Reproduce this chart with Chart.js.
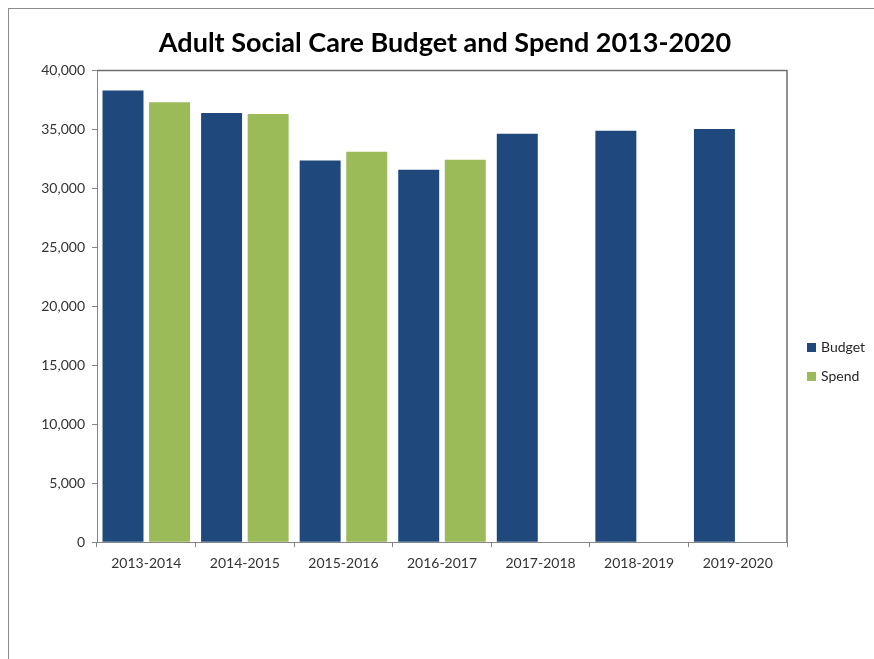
<!DOCTYPE html>
<html>
<head>
<meta charset="utf-8">
<script src="https://cdn.jsdelivr.net/npm/chart.js@4"></script>
<style>
  html, body { margin: 0; padding: 0; background: #fff; overflow: hidden; }
  #wrap { position: relative; width: 874px; height: 659px; }
  #frame { position: absolute; left: 8px; top: 8px; width: 1000px; height: 1000px;
           border-left: 1px solid #8c8c8c; border-top: 1px solid #8c8c8c; }
  #legend { position: absolute; left: 807px; top: 338px; font-family: Lato, sans-serif;
            font-size: 14px; color: #262626; }
  #legend div { height: 29px; line-height: 18px; white-space: nowrap; }
  #legend span { display: inline-block; width: 9px; height: 9px; margin-right: 5px; vertical-align: 0px; }
</style>
</head>
<body>
<div id="wrap">
  <div id="frame"></div>
  <canvas id="chart" width="874" height="659"></canvas>
  <div id="legend"></div>
</div>
<script>
// Data
const years = ['2013-2014', '2014-2015', '2015-2016', '2016-2017', '2017-2018', '2018-2019', '2019-2020'];
const budget = [38300, 36380, 32370, 31580, 34630, 34890, 35030];
const spend = [37290, 36300, 33100, 32430, null, null, null];
const seriesNames = ['Budget', 'Spend'];

const colors = {
  budget: '#1F497D',
  spend: '#9BBB59'
};

// top + right edge of the plot area
const plotBorder = {
  id: 'plotBorder',
  afterDraw(chart) {
    const { ctx, chartArea: a } = chart;
    ctx.save();
    ctx.strokeStyle = '#6e6e6e';
    ctx.lineWidth = 1.5;
    ctx.beginPath();
    ctx.moveTo(a.left, a.top);
    ctx.lineTo(a.right, a.top);
    ctx.lineTo(a.right, a.bottom);
    ctx.stroke();
    ctx.restore();
  }
};

Chart.defaults.font.family = "Lato, sans-serif";
Chart.defaults.color = '#333';

const chart = new Chart(document.getElementById('chart'), {
  type: 'bar',
  data: {
    labels: years,
    datasets: [
      { label: seriesNames[0], data: budget, backgroundColor: colors.budget },
      { label: seriesNames[1], data: spend, backgroundColor: colors.spend }
    ]
  },
  options: {
    responsive: false,
    animation: false,
    categoryPercentage: 0.945,
    barPercentage: 0.88,
    layout: { padding: { left: 16, right: 0, top: 0, bottom: 79 } },
    plugins: {
      legend: { display: false },
      tooltip: { enabled: false },
      title: {
        display: true,
        text: 'Adult Social Care Budget and Spend 2013-2020',
        color: '#000',
        font: { size: 27, weight: 'bold' },
        padding: { top: 27, bottom: 11 }
      }
    },
    scales: {
      x: {
        grid: { offset: true, drawOnChartArea: false, tickLength: 5, color: '#868686' },
        border: { color: '#868686' },
        ticks: { font: { size: 14 }, padding: 8, color: '#333' }
      },
      y: {
        min: 0,
        max: 40000,
        afterFit: s => { s.width = 81; },
        ticks: { stepSize: 5000, font: { size: 14 }, padding: 7, color: '#333' },
        grid: { drawOnChartArea: false, tickLength: 5, color: '#868686' },
        border: { color: '#868686' }
      },
      // empty space on the right for the legend
      yRight: {
        position: 'right',
        min: 0,
        max: 1,
        afterFit: s => { s.width = 87; },
        ticks: { display: false },
        grid: { display: false },
        border: { display: false }
      }
    }
  },
  plugins: [plotBorder]
});

// legend built from the datasets
const legendEl = document.getElementById('legend');
chart.data.datasets.forEach(ds => {
  const row = document.createElement('div');
  row.innerHTML = `<span style="background:${ds.backgroundColor}"></span>${ds.label}`;
  legendEl.appendChild(row);
});
</script>
</body>
</html>
